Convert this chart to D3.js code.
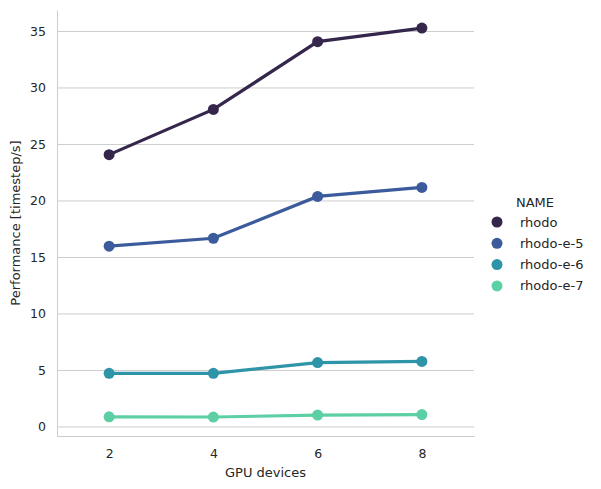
<!DOCTYPE html>
<html><head><meta charset="utf-8">
<script src="https://cdn.jsdelivr.net/npm/d3@7"></script>
<style>body{margin:0;background:#fff}text{font-family:"DejaVu Sans",sans-serif;fill:#262626}</style>
</head><body>
<svg id="c" width="601" height="489"></svg>
<script>
var gpus = [2, 4, 6, 8];
var names = ["rhodo", "rhodo-e-5", "rhodo-e-6", "rhodo-e-7"];
var colors = ["#35264c", "#3b5b9c", "#2e94a8", "#5ccfa4"];
var rhodo = [24.1, 28.1, 34.1, 35.3];
var rhodoE5 = [16.0, 16.7, 20.4, 21.2];
var rhodoE6 = [4.75, 4.75, 5.7, 5.8];
var rhodoE7 = [0.9, 0.88, 1.05, 1.1];
var series = [rhodo, rhodoE5, rhodoE6, rhodoE7];
var yTicks = [0, 5, 10, 15, 20, 25, 30, 35];

var svg = d3.select("#c");
var L = 57, R = 474, T = 10, B = 436;
var x = d3.scalePoint().domain(gpus).range([L, R]).padding(0.5);
var y = d3.scaleLinear().domain([-0.8, 36.9]).range([B, T]);

// grid
svg.append("g").selectAll("line").data(yTicks).enter().append("line")
  .attr("x1", L).attr("x2", R).attr("y1", function(d){ return y(d); }).attr("y2", function(d){ return y(d); })
  .attr("stroke", "#cccccc").attr("stroke-width", 1);

var ax = svg.append("g").attr("transform", "translate(0," + B + ")")
  .call(d3.axisBottom(x).tickSize(0).tickPadding(13));
var ay = svg.append("g").attr("transform", "translate(" + L + ",0)")
  .call(d3.axisLeft(y).tickValues(yTicks).tickSize(0).tickPadding(11));
[ax, ay].forEach(function(a){
  a.select(".domain").attr("stroke", "#cccccc");
  a.selectAll("text").style("font-size", "12.5px").attr("fill", "#262626");
});

svg.append("text").attr("x", (L + R) / 2).attr("y", 477).attr("text-anchor", "middle")
  .style("font-size", "13px").text("GPU devices");
svg.append("text").attr("transform", "translate(20," + ((T + B) / 2) + ") rotate(-90)")
  .attr("text-anchor", "middle").style("font-size", "13px").text("Performance [timestep/s]");

series.forEach(function(s, i){
  var pts = gpus.map(function(g, j){ return [x(g), y(s[j])]; });
  svg.append("path").attr("d", d3.line()(pts)).attr("fill", "none")
    .attr("stroke", colors[i]).attr("stroke-width", 3.2);
  svg.append("g").selectAll("circle").data(pts).enter().append("circle")
    .attr("cx", function(d){ return d[0]; }).attr("cy", function(d){ return d[1]; })
    .attr("r", 5.5).attr("fill", colors[i]);
});

var lg = svg.append("g");
lg.append("text").attr("x", 535).attr("y", 207).attr("text-anchor", "middle")
  .style("font-size", "13px").text("NAME");
names.forEach(function(n, i){
  var yy = 222 + i * 21.3;
  lg.append("circle").attr("cx", 497).attr("cy", yy).attr("r", 5.5).attr("fill", colors[i]);
  lg.append("text").attr("x", 520).attr("y", yy + 4.5).style("font-size", "13px").text(n);
});
</script>
</body></html>
